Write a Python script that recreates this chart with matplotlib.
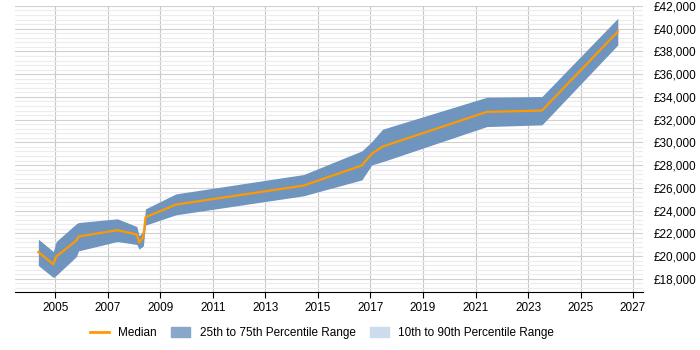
import numpy as np
import matplotlib.pyplot as plt
from matplotlib.patches import Patch
from matplotlib.lines import Line2D
from matplotlib.ticker import FuncFormatter, MultipleLocator

plt.rcParams['font.family'] = ['Liberation Sans', 'DejaVu Sans']

# data
dates = [2004.35, 2004.92, 2005.03, 2005.8, 2005.88, 2007.36, 2008.10, 2008.19, 2008.35,
         2008.43, 2009.59, 2014.45, 2016.67, 2017.05, 2017.46, 2021.43, 2023.53, 2026.42]
median = [20350, 19290, 19960, 21370, 21720, 22280, 21900, 21200, 21670,
          23420, 24530, 26200, 27970, 29000, 29630, 32680, 32800, 39740]
p75 = [21490, 20400, 21280, 22850, 22950, 23280, 22600, 21780, 22220,
       24150, 25470, 27170, 29250, 30070, 31160, 33970, 34030, 40920]
p25 = [19170, 18120, 18300, 19960, 20460, 21280, 21020, 20610, 20900,
       22720, 23630, 25300, 26700, 28020, 28300, 31390, 31540, 38570]
years = np.arange(2005, 2028, 2)

fig = plt.figure(figsize=(7, 3.5), dpi=100)
ax = fig.add_axes([0.0214, 0.166, 0.8972, 0.817])

ax.fill_between(dates, p25, p75, color='#6f95bf', linewidth=0, zorder=2)
ax.plot(dates, median, color='#ff9900', linewidth=1.6, zorder=3)

ax.set_xlim(2003.46, 2027.38)
ax.set_ylim(16850, 42000)
ax.set_xticks(years)
ax.yaxis.set_major_locator(MultipleLocator(2000))
ax.yaxis.set_minor_locator(MultipleLocator(400))
ax.yaxis.set_major_formatter(FuncFormatter(lambda v, p: '£{:,.0f}'.format(v)))
ax.yaxis.tick_right()

ax.grid(axis='x', color='#c8c8c8', linewidth=0.8, zorder=0)
ax.grid(axis='y', which='major', color='#d0d0d0', linewidth=0.8, zorder=0)
ax.grid(axis='y', which='minor', color='#ececec', linewidth=0.8, zorder=0)
ax.set_axisbelow(True)

for s in ['top', 'left', 'right']:
    ax.spines[s].set_visible(False)
ax.spines['bottom'].set_color('#000000')
ax.tick_params(axis='y', which='both', length=0, labelsize=8.5, pad=8)
ax.tick_params(axis='x', length=4, color='#000000', labelsize=8.5)

handles = [Line2D([0], [0], color='#ff9900', linewidth=2),
           Patch(color='#88a7c9'),
           Patch(color='#cddcec')]
labels = ['Median', '25th to 75th Percentile Range', '10th to 90th Percentile Range']
fig.legend(handles, labels, loc='lower center', bbox_to_anchor=(0.46, 0.0), ncol=3,
           frameon=False, fontsize=8.5, handlelength=1.6, handleheight=0.9, columnspacing=1.2)

fig.savefig('out.png', dpi=100)
